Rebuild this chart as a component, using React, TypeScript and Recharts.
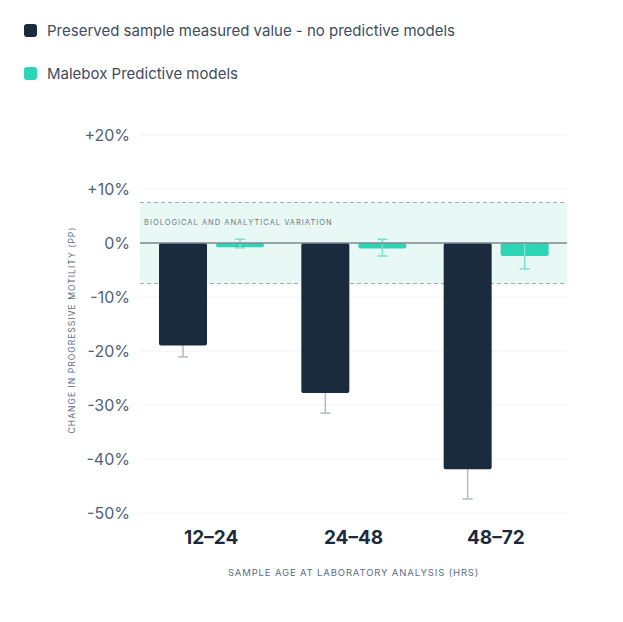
import React from 'react';
import {
  BarChart,
  Bar,
  XAxis,
  YAxis,
  CartesianGrid,
  ReferenceArea,
  ReferenceLine,
  ErrorBar,
} from 'recharts';

const categories = ['12–24', '24–48', '48–72'];
const preserved = [-19, -27.8, -41.9];
const preservedErr = [2.1, 3.7, 5.5];
const malebox = [-0.8, -1.0, -2.4];
const maleboxErr: [number, number][] = [[0.1, 1.5], [1.4, 1.7], [2.4, 2.4]];
const yTicks = [20, 10, 0, -10, -20, -30, -40, -50];
const variationBand = [-7.5, 7.5];

const DARK = '#1b2b3e';
const TEAL = '#2dd4b5';
const FONT = 'Inter, "Noto Sans", sans-serif';

const data = categories.map((c, i) => ({
  cat: c,
  preserved: preserved[i],
  preservedErr: preservedErr[i],
  malebox: malebox[i],
  maleboxErr: maleboxErr[i],
}));

const fmt = (v: number) => (v > 0 ? `+${v}%` : `${v}%`);

const YTick = (props: any) => {
  const { y, payload } = props;
  return (
    <text x={130} y={y} dy={6} textAnchor="end" fontSize={16} fill="#4f6278" fontFamily={FONT}>
      {fmt(payload.value)}
    </text>
  );
};

const XTick = (props: any) => {
  const { x, payload } = props;
  return (
    <text x={x} y={544} textAnchor="middle" fontSize={19} fontWeight={700} fill={DARK} fontFamily={FONT}>
      {payload.value}
    </text>
  );
};

const BandLabel = (props: any) => {
  const { viewBox } = props;
  return (
    <text
      x={viewBox.x + 4}
      y={viewBox.y + 22}
      fontSize={7.5}
      letterSpacing={1.0}
      fill="#6b7a8a"
      fontFamily={FONT}
    >
      BIOLOGICAL AND ANALYTICAL VARIATION
    </text>
  );
};

const LegendRow = ({ color, label }: { color: string; label: string }) => (
  <div style={{ display: 'flex', alignItems: 'center', height: 14 }}>
    <div style={{ width: 13, height: 13, borderRadius: 3, background: color, marginRight: 10 }} />
    <span style={{ fontSize: 15, color: '#3e4c5e', fontFamily: FONT }}>{label}</span>
  </div>
);

export default function App() {
  return (
    <div style={{ position: 'absolute', left: 0, top: 0, width: 623, height: 622, background: '#fff' }}>
      <div style={{ position: 'absolute', left: 24, top: 23 }}>
        <LegendRow color={DARK} label="Preserved sample measured value - no predictive models" />
        <div style={{ height: 29 }} />
        <LegendRow color={TEAL} label="Malebox Predictive models" />
      </div>
      <BarChart
        width={623}
        height={622}
        data={data}
        margin={{ top: 135, right: 56, bottom: 79, left: 80 }}
        barGap={9}
        barCategoryGap={19}
      >
        <CartesianGrid vertical={false} stroke="#f1f2f3" />
        <ReferenceArea
          y1={variationBand[0]}
          y2={variationBand[1]}
          fill="#e8f8f4"
          fillOpacity={1}
          label={<BandLabel />}
        />
        <ReferenceLine y={variationBand[1]} stroke="#a3adb4" strokeDasharray="4 3" zIndex={150} />
        <ReferenceLine y={variationBand[0]} stroke="#a3adb4" strokeDasharray="4 3" zIndex={150} />
        <XAxis
          dataKey="cat"
          height={30}
          axisLine={false}
          tickLine={false}
          tick={<XTick />}
          interval={0}
        />
        <YAxis
          width={60}
          domain={[-50, 20]}
          ticks={yTicks}
          axisLine={false}
          tickLine={false}
          tick={<YTick />}
          interval={0}
        />
        <Bar dataKey="preserved" fill={DARK} radius={2} barSize={48} isAnimationActive={false}>
          <ErrorBar dataKey="preservedErr" width={5} stroke="#b5bac0" strokeWidth={1.5} direction="y" zIndex={250} />
        </Bar>
        <Bar dataKey="malebox" fill={TEAL} radius={2} barSize={48} isAnimationActive={false}>
          <ErrorBar dataKey="maleboxErr" width={5} stroke="#7edfc9" strokeWidth={1.5} direction="y" />
        </Bar>
        <ReferenceLine y={0} stroke="#7d8891" strokeWidth={1.5} />
      </BarChart>
      <div
        style={{
          position: 'absolute',
          left: 140,
          width: 427,
          top: 567,
          textAlign: 'center',
          fontSize: 9.5,
          letterSpacing: 0.85,
          color: '#5a6e84',
          fontFamily: FONT,
        }}
      >
        SAMPLE AGE AT LABORATORY ANALYSIS (HRS)
      </div>
      <div
        style={{
          position: 'absolute',
          left: 72,
          top: 330,
          transform: 'translate(-50%, -50%) rotate(-90deg)',
          whiteSpace: 'nowrap',
          fontSize: 8.5,
          letterSpacing: 1.05,
          color: '#5a6e84',
          fontFamily: FONT,
        }}
      >
        CHANGE IN PROGRESSIVE MOTILITY (PP)
      </div>
    </div>
  );
}
